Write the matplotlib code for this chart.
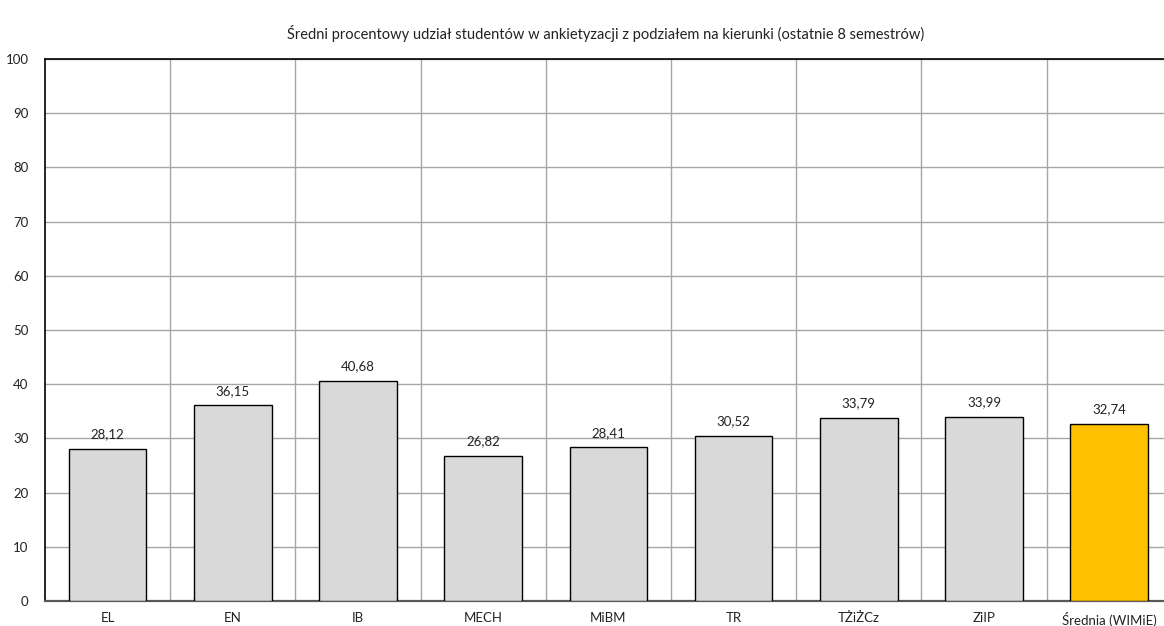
import matplotlib.pyplot as plt
import numpy as np

plt.rcParams['font.family'] = ['Lato', 'DejaVu Sans']

# data
categories = ['EL', 'EN', 'IB', 'MECH', 'MiBM', 'TR', 'TŻiŻCz', 'ZiIP', 'Średnia (WIMiE)']
values = [28.12, 36.15, 40.68, 26.82, 28.41, 30.52, 33.79, 33.99, 32.74]
labels = ['28,12', '36,15', '40,68', '26,82', '28,41', '30,52', '33,79', '33,99', '32,74']
colors = ['#d9d9d9'] * 8 + ['#ffc000']

fig = plt.figure(figsize=(11.64, 6.26), dpi=100)
ax = fig.add_axes([0.0387, 0.0399, 0.968, 0.8659])

x = np.arange(len(categories))
bars = ax.bar(x, values, width=0.62, color=colors, edgecolor='black', linewidth=1.0, zorder=3)

for xi, v, lab in zip(x, values, labels):
    ax.annotate(lab, (xi, v), xytext=(0, 6), textcoords='offset points',
                ha='center', va='bottom', fontsize=9.5, color='#222222')

ax.set_xlim(-0.5, len(categories) - 0.5)
ax.set_ylim(0, 100)
ax.set_yticks(range(0, 101, 10))
ax.set_xticks(x)
ax.set_xticklabels(categories)
ax.set_xticks(x[:-1] + 0.5, minor=True)

ax.grid(axis='y', which='major', color='#a6a6a6', linewidth=1.0, zorder=0)
ax.grid(axis='x', which='minor', color='#a6a6a6', linewidth=1.0, zorder=0)
ax.tick_params(axis='both', which='both', length=0, labelsize=9.5, colors='#222222')
ax.tick_params(axis='x', pad=8)
ax.tick_params(axis='y', pad=12)

ax.spines['right'].set_visible(False)
ax.spines['top'].set_color('black')
ax.spines['left'].set_color('black')
ax.spines['bottom'].set_color('#595959')
ax.spines['bottom'].set_linewidth(1.6)
for s in ['top', 'left']:
    ax.spines[s].set_linewidth(1.2)

fig.suptitle('Średni procentowy udział studentów w ankietyzacji z podziałem na kierunki (ostatnie 8 semestrów)',
             x=0.52, y=0.947, va='center', fontsize=10.5, color='#222222')

fig.savefig('out.png', dpi=100)
